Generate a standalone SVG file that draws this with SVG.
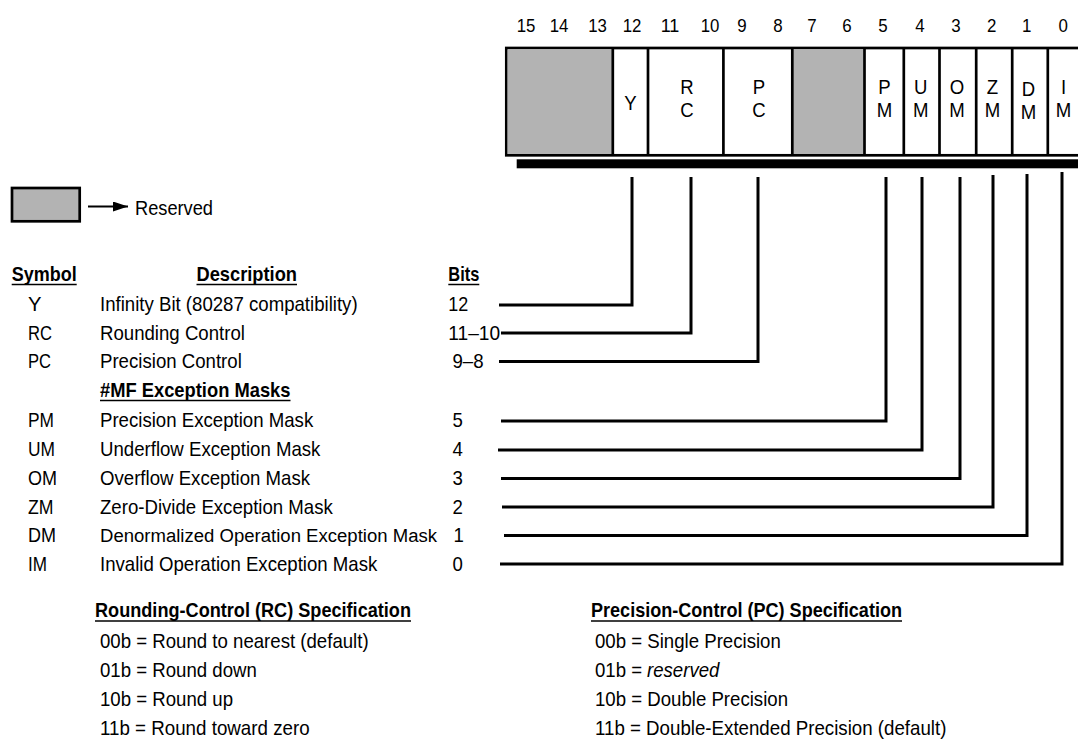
<svg xmlns="http://www.w3.org/2000/svg" width="1078" height="739" viewBox="0 0 1078 739">
<style>
text { font-family: 'Liberation Sans', Arial, sans-serif; font-size: 21px; fill: #000; }
.b { font-weight: bold; }
.n { font-size: 19px; text-anchor: middle; }
.m { text-anchor: middle; }
.i { font-style: italic; }
.gray { fill: #b3b3b3; }
.div { stroke: #000; stroke-width: 2.7; }
.ul { stroke: #000; stroke-width: 1.5; }
.c { fill: none; stroke: #000; stroke-width: 3; stroke-linejoin: miter; }
</style>
<defs>
<marker id="ah" viewBox="0 0 15 10" refX="15" refY="5" markerWidth="15" markerHeight="10" markerUnits="userSpaceOnUse" orient="auto">
<path d="M0,0 L15,5 L0,10 Z" fill="#000"/>
</marker>
</defs>

<g id="bit-numbers">
<text class="n" x="526" y="31.5" textLength="18.7" lengthAdjust="spacingAndGlyphs">15</text>
<text class="n" x="559" y="31.5" textLength="18.7" lengthAdjust="spacingAndGlyphs">14</text>
<text class="n" x="597.5" y="31.5" textLength="18.7" lengthAdjust="spacingAndGlyphs">13</text>
<text class="n" x="632" y="31.5" textLength="18.7" lengthAdjust="spacingAndGlyphs">12</text>
<text class="n" x="670" y="31.5" textLength="18.7" lengthAdjust="spacingAndGlyphs">11</text>
<text class="n" x="710" y="31.5" textLength="18.7" lengthAdjust="spacingAndGlyphs">10</text>
<text class="n" x="742" y="31.5" textLength="9.4" lengthAdjust="spacingAndGlyphs">9</text>
<text class="n" x="778" y="31.5" textLength="9.4" lengthAdjust="spacingAndGlyphs">8</text>
<text class="n" x="812" y="31.5" textLength="9.4" lengthAdjust="spacingAndGlyphs">7</text>
<text class="n" x="847" y="31.5" textLength="9.4" lengthAdjust="spacingAndGlyphs">6</text>
<text class="n" x="883" y="31.5" textLength="9.4" lengthAdjust="spacingAndGlyphs">5</text>
<text class="n" x="920" y="31.5" textLength="9.4" lengthAdjust="spacingAndGlyphs">4</text>
<text class="n" x="956" y="31.5" textLength="9.4" lengthAdjust="spacingAndGlyphs">3</text>
<text class="n" x="991.7" y="31.5" textLength="9.4" lengthAdjust="spacingAndGlyphs">2</text>
<text class="n" x="1026.7" y="31.5" textLength="9.4" lengthAdjust="spacingAndGlyphs">1</text>
<text class="n" x="1063.3" y="31.5" textLength="9.4" lengthAdjust="spacingAndGlyphs">0</text>
</g>

<g id="register">
<rect x="516.7" y="159.3" width="562" height="9" fill="#000"/>
<rect x="506.3" y="48" width="590" height="107.3" fill="#fff" stroke="#000" stroke-width="2.7"/>
<g id="field-reserved-15-13"><rect class="gray" x="507.6" y="49.3" width="105.2" height="104.7"/></g>
<g id="field-Y"><text class="m" x="630.5" y="110" textLength="12.4" lengthAdjust="spacingAndGlyphs">Y</text></g>
<g id="field-RC"><text class="m" x="687" y="94" textLength="13.4" lengthAdjust="spacingAndGlyphs">R</text><text class="m" x="687" y="116.5" textLength="13.4" lengthAdjust="spacingAndGlyphs">C</text></g>
<g id="field-PC"><text class="m" x="759" y="94" textLength="12.4" lengthAdjust="spacingAndGlyphs">P</text><text class="m" x="759" y="116.5" textLength="13.4" lengthAdjust="spacingAndGlyphs">C</text></g>
<g id="field-reserved-7-6"><rect class="gray" x="792.3" y="49.3" width="72.2" height="104.7"/></g>
<g id="field-PM"><text class="m" x="884.5" y="94" textLength="12.4" lengthAdjust="spacingAndGlyphs">P</text><text class="m" x="884.5" y="116.5" textLength="15.5" lengthAdjust="spacingAndGlyphs">M</text></g>
<g id="field-UM"><text class="m" x="920.8" y="94" textLength="13.4" lengthAdjust="spacingAndGlyphs">U</text><text class="m" x="920.8" y="116.5" textLength="15.5" lengthAdjust="spacingAndGlyphs">M</text></g>
<g id="field-OM"><text class="m" x="957" y="94" textLength="14.5" lengthAdjust="spacingAndGlyphs">O</text><text class="m" x="957" y="116.5" textLength="15.5" lengthAdjust="spacingAndGlyphs">M</text></g>
<g id="field-ZM"><text class="m" x="992.5" y="94" textLength="11.4" lengthAdjust="spacingAndGlyphs">Z</text><text class="m" x="992.5" y="116.5" textLength="15.5" lengthAdjust="spacingAndGlyphs">M</text></g>
<g id="field-DM"><text class="m" x="1028.5" y="95.5" textLength="13.4" lengthAdjust="spacingAndGlyphs">D</text><text class="m" x="1028.5" y="118.5" textLength="15.5" lengthAdjust="spacingAndGlyphs">M</text></g>
<g id="field-IM"><text class="m" x="1063.5" y="94" textLength="5.2" lengthAdjust="spacingAndGlyphs">I</text><text class="m" x="1063.5" y="116.5" textLength="15.5" lengthAdjust="spacingAndGlyphs">M</text></g>
<g id="dividers" class="div">
<line x1="612.8" y1="48" x2="612.8" y2="155.3"/>
<line x1="648" y1="48" x2="648" y2="155.3"/>
<line x1="723.4" y1="48" x2="723.4" y2="155.3"/>
<line x1="792.3" y1="48" x2="792.3" y2="155.3"/>
<line x1="864.5" y1="48" x2="864.5" y2="155.3"/>
<line x1="903.8" y1="48" x2="903.8" y2="155.3"/>
<line x1="939.5" y1="48" x2="939.5" y2="155.3"/>
<line x1="976.2" y1="48" x2="976.2" y2="155.3"/>
<line x1="1012.2" y1="48" x2="1012.2" y2="155.3"/>
<line x1="1047.8" y1="48" x2="1047.8" y2="155.3"/>
</g>
</g>

<g id="legend">
<rect x="12" y="188" width="67.7" height="33.3" fill="#b3b3b3" stroke="#000" stroke-width="2.7"/>
<line x1="88" y1="206.5" x2="128" y2="206.5" stroke="#000" stroke-width="2" marker-end="url(#ah)"/>
<text x="135" y="215" textLength="78" lengthAdjust="spacingAndGlyphs">Reserved</text>
</g>

<g id="table-headers">
<text class="b" x="11.7" y="281" textLength="65" lengthAdjust="spacingAndGlyphs">Symbol</text>
<line class="ul" x1="11.7" y1="284.5" x2="76.7" y2="284.5"/>
<text class="b" x="196.5" y="281" textLength="100.5" lengthAdjust="spacingAndGlyphs">Description</text>
<line class="ul" x1="196.5" y1="284.5" x2="297" y2="284.5"/>
<text class="b" x="448.3" y="281" textLength="31" lengthAdjust="spacingAndGlyphs">Bits</text>
<line class="ul" x1="448.3" y1="284.5" x2="479.3" y2="284.5"/>
</g>

<g id="row-Y">
<text x="28" y="311" textLength="13.5" lengthAdjust="spacingAndGlyphs">Y</text>
<text x="100" y="311" textLength="257.6" lengthAdjust="spacingAndGlyphs">Infinity Bit (80287 compatibility)</text>
<text x="448.3" y="311" textLength="20" lengthAdjust="spacingAndGlyphs">12</text>
</g>
<g id="row-RC">
<text x="28" y="339.5" textLength="24" lengthAdjust="spacingAndGlyphs">RC</text>
<text x="100" y="339.5" textLength="144.9" lengthAdjust="spacingAndGlyphs">Rounding Control</text>
<text x="448.3" y="339.5" textLength="51.8" lengthAdjust="spacingAndGlyphs">11–10</text>
</g>
<g id="row-PC">
<text x="28" y="368" textLength="23" lengthAdjust="spacingAndGlyphs">PC</text>
<text x="100" y="368" textLength="141.8" lengthAdjust="spacingAndGlyphs">Precision Control</text>
<text x="452.5" y="368" textLength="31.1" lengthAdjust="spacingAndGlyphs">9–8</text>
</g>
<g id="row-MF">
<text class="b" x="100" y="397" textLength="190.5" lengthAdjust="spacingAndGlyphs">#MF Exception Masks</text>
<line class="ul" x1="100" y1="400.5" x2="290.5" y2="400.5"/>
</g>
<g id="row-PM">
<text x="28" y="426.5" textLength="26" lengthAdjust="spacingAndGlyphs">PM</text>
<text x="100" y="426.5" textLength="213.2" lengthAdjust="spacingAndGlyphs">Precision Exception Mask</text>
<text x="452.5" y="426.5" textLength="10.35" lengthAdjust="spacingAndGlyphs">5</text>
</g>
<g id="row-UM">
<text x="28" y="455.5" textLength="27" lengthAdjust="spacingAndGlyphs">UM</text>
<text x="100" y="455.5" textLength="220.4" lengthAdjust="spacingAndGlyphs">Underflow Exception Mask</text>
<text x="452.5" y="455.5" textLength="10.35" lengthAdjust="spacingAndGlyphs">4</text>
</g>
<g id="row-OM">
<text x="28" y="484.5" textLength="29" lengthAdjust="spacingAndGlyphs">OM</text>
<text x="100" y="484.5" textLength="210.1" lengthAdjust="spacingAndGlyphs">Overflow Exception Mask</text>
<text x="452.5" y="484.5" textLength="10.35" lengthAdjust="spacingAndGlyphs">3</text>
</g>
<g id="row-ZM">
<text x="28" y="513.5" textLength="25.5" lengthAdjust="spacingAndGlyphs">ZM</text>
<text x="100" y="513.5" textLength="232.8" lengthAdjust="spacingAndGlyphs">Zero-Divide Exception Mask</text>
<text x="452.5" y="513.5" textLength="10.35" lengthAdjust="spacingAndGlyphs">2</text>
</g>
<g id="row-DM">
<text x="28" y="542" textLength="28" lengthAdjust="spacingAndGlyphs">DM</text>
<text x="100" y="542" style="font-size:19.2px" textLength="337" lengthAdjust="spacingAndGlyphs">Denormalized Operation Exception Mask</text>
<text x="453.5" y="542" textLength="10.35" lengthAdjust="spacingAndGlyphs">1</text>
</g>
<g id="row-IM">
<text x="28" y="570.5" textLength="19" lengthAdjust="spacingAndGlyphs">IM</text>
<text x="100" y="570.5" textLength="277.3" lengthAdjust="spacingAndGlyphs">Invalid Operation Exception Mask</text>
<text x="452.5" y="570.5" textLength="10.35" lengthAdjust="spacingAndGlyphs">0</text>
</g>

<g id="connectors" class="c">
<polyline points="499,305 632,305 632,177"/>
<polyline points="501,333 691,333 691,177"/>
<polyline points="499,361.5 758,361.5 758,177"/>
<polyline points="501,421 886,421 886,177"/>
<polyline points="498,450 922,450 922,177"/>
<polyline points="501,478.5 960,478.5 960,177"/>
<polyline points="502,507 993,507 993,175"/>
<polyline points="504,535.5 1027,535.5 1027,174"/>
<polyline points="500,564 1062,564 1062,172"/>
</g>

<g id="rc-spec">
<text class="b" x="95" y="617" textLength="316" lengthAdjust="spacingAndGlyphs">Rounding-Control (RC) Specification</text>
<line class="ul" x1="95" y1="621" x2="411" y2="621"/>
<text x="100" y="648" textLength="268.6" lengthAdjust="spacingAndGlyphs">00b = Round to nearest (default)</text>
<text x="100" y="677" textLength="156.8" lengthAdjust="spacingAndGlyphs">01b = Round down</text>
<text x="100" y="706" textLength="133" lengthAdjust="spacingAndGlyphs">10b = Round up</text>
<text x="100" y="735" textLength="209.6" lengthAdjust="spacingAndGlyphs">11b = Round toward zero</text>
</g>

<g id="pc-spec">
<text class="b" x="591" y="617" textLength="311" lengthAdjust="spacingAndGlyphs">Precision-Control (PC) Specification</text>
<line class="ul" x1="591" y1="621" x2="902" y2="621"/>
<text x="595" y="648" textLength="185.8" lengthAdjust="spacingAndGlyphs">00b = Single Precision</text>
<text x="595" y="677" textLength="47.1" lengthAdjust="spacingAndGlyphs">01b =</text>
<text class="i" x="647" y="677" textLength="72.4" lengthAdjust="spacingAndGlyphs">reserved</text>
<text x="595" y="706" textLength="193" lengthAdjust="spacingAndGlyphs">10b = Double Precision</text>
<text x="595" y="735" textLength="351.4" lengthAdjust="spacingAndGlyphs">11b = Double-Extended Precision (default)</text>
</g>
</svg>
